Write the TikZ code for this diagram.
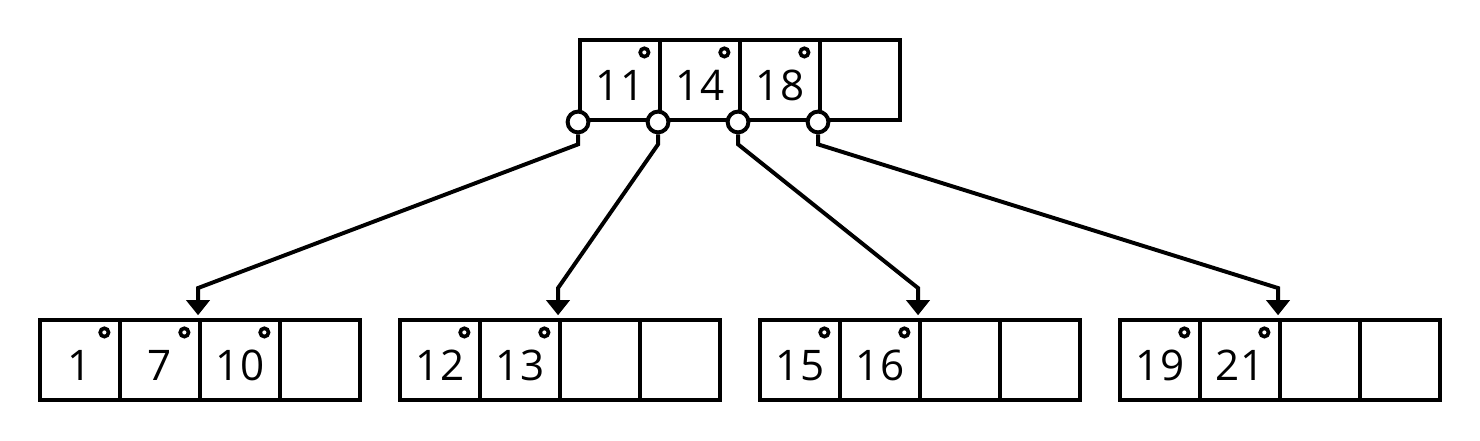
\documentclass[tikz,border=0pt]{standalone}
\usepackage{fontspec}
\setmainfont{Open Sans}
\usetikzlibrary{arrows.meta,calc}

\begin{document}
\begin{tikzpicture}[
    cell/.style={draw, line width=1.4pt, minimum size=1cm, inner sep=0pt,
      text height=0.5cm, text depth=0pt, font=\fontsize{15}{18}\selectfont},
    key/.style={line width=1.3pt},
    ptr/.style={circle, draw, line width=1.4pt, fill=white, inner sep=0pt, minimum size=0.26cm},
    link/.style={line width=1.4pt, shorten >=1pt, -{Triangle[width=0.29cm, length=0.19cm]}}
  ]
    \useasboundingbox (0,0) rectangle (18.5,-5.5);

    % Root
    \foreach \k/\v in {1/11,2/14,3/18,4/{}}
      \node[cell] (t\k) at (6.75+\k,-1) {\v};

    % Leaves
    \foreach \k/\v in {1/1,2/7,3/10,4/{}}
      \node[cell] (a\k) at (\k,-4.5) {\v};
    \foreach \k/\v in {1/12,2/13,3/{},4/{}}
      \node[cell] (b\k) at (4.5+\k,-4.5) {\v};
    \foreach \k/\v in {1/15,2/16,3/{},4/{}}
      \node[cell] (c\k) at (9+\k,-4.5) {\v};
    \foreach \k/\v in {1/19,2/21,3/{},4/{}}
      \node[cell] (d\k) at (13.5+\k,-4.5) {\v};

    % Small circles next to the keys
    \foreach \n in {t1,t2,t3,a1,a2,a3,b1,b2,c1,c2,d1,d2}
      \draw[key] (\n.north east) ++(-0.22,-0.18) circle (0.052);

    % Child pointers
    \foreach \k in {1,...,4}
      \node[ptr] (p\k) at (t\k.south west) {};

    \draw[link] (p1.south) -- ++(0,-0.125) -- ($(a3.north west)+(0,0.375)$) -- (a3.north west);
    \draw[link] (p2.south) -- ++(0,-0.125) -- ($(b3.north west)+(0,0.375)$) -- (b3.north west);
    \draw[link] (p3.south) -- ++(0,-0.125) -- ($(c3.north west)+(0,0.375)$) -- (c3.north west);
    \draw[link] (p4.south) -- ++(0,-0.125) -- ($(d3.north west)+(0,0.375)$) -- (d3.north west);
\end{tikzpicture}
\end{document}
